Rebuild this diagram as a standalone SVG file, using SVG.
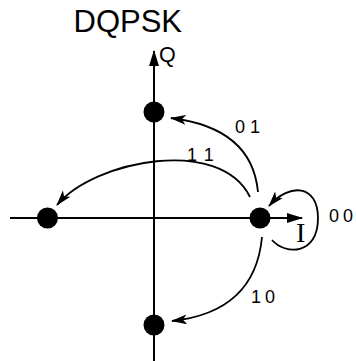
<svg xmlns="http://www.w3.org/2000/svg" width="356" height="361" viewBox="0 0 356 361">
<style>
.axis{stroke:#000;stroke-width:2;fill:none}
.arc{stroke:#000;stroke-width:1.8;fill:none;marker-end:url(#ah)}
.dot{fill:#000}
.lbl{font-family:"Liberation Sans",Arial,sans-serif;font-size:18px;fill:#000}
</style>
<defs>
<marker id="ah" viewBox="0 0 16 10" refX="15" refY="5" markerWidth="16" markerHeight="10" markerUnits="userSpaceOnUse" orient="auto">
<path d="M0,0 L16,5 L0,10 L4,5 z" fill="#000"/>
</marker>
<marker id="axh" viewBox="0 0 16 10" refX="15" refY="5" markerWidth="16" markerHeight="10" markerUnits="userSpaceOnUse" orient="auto">
<path d="M0,0 L16,5 L0,10 z" fill="#000"/>
</marker>
</defs>
<rect width="356" height="361" fill="#fff"/>
<text x="73.5" y="32" font-family="Liberation Sans,Arial,sans-serif" font-size="31">DQPSK</text>
<g id="axes">
<line class="axis" x1="154" y1="361" x2="154" y2="51" marker-end="url(#axh)"/>
<line class="axis" x1="10" y1="218" x2="302" y2="218" marker-end="url(#axh)"/>
<text x="159" y="62" font-family="Liberation Sans,Arial,sans-serif" font-size="21.5">Q</text>
<text x="296" y="242" font-family="Liberation Serif,Times New Roman,serif" font-size="28">I</text>
</g>
<g id="connectors">
<path class="arc" d="M258 192 Q252 128 171 118"/>
<path class="arc" d="M250 197 C220 136 95 160 57 205"/>
<path class="arc" d="M272 240 C285 255 318 256 318 218 C318 185 290 182 269 206"/>
<path class="arc" d="M262 237 Q255 312 172 321"/>
</g>
<g id="labels">
<text class="lbl" x="235" y="133" letter-spacing="5">01</text>
<text class="lbl" x="187" y="161" letter-spacing="8">11</text>
<text class="lbl" x="329" y="222" letter-spacing="4">00</text>
<text class="lbl" x="251" y="303" letter-spacing="4">10</text>
</g>
<g id="node-01"><circle class="dot" cx="154" cy="112" r="10.5"/></g>
<g id="node-11"><circle class="dot" cx="47.5" cy="218" r="10.5"/></g>
<g id="node-00"><circle class="dot" cx="260" cy="218" r="10.5"/></g>
<g id="node-10"><circle class="dot" cx="154" cy="325" r="10.5"/></g>
</svg>
